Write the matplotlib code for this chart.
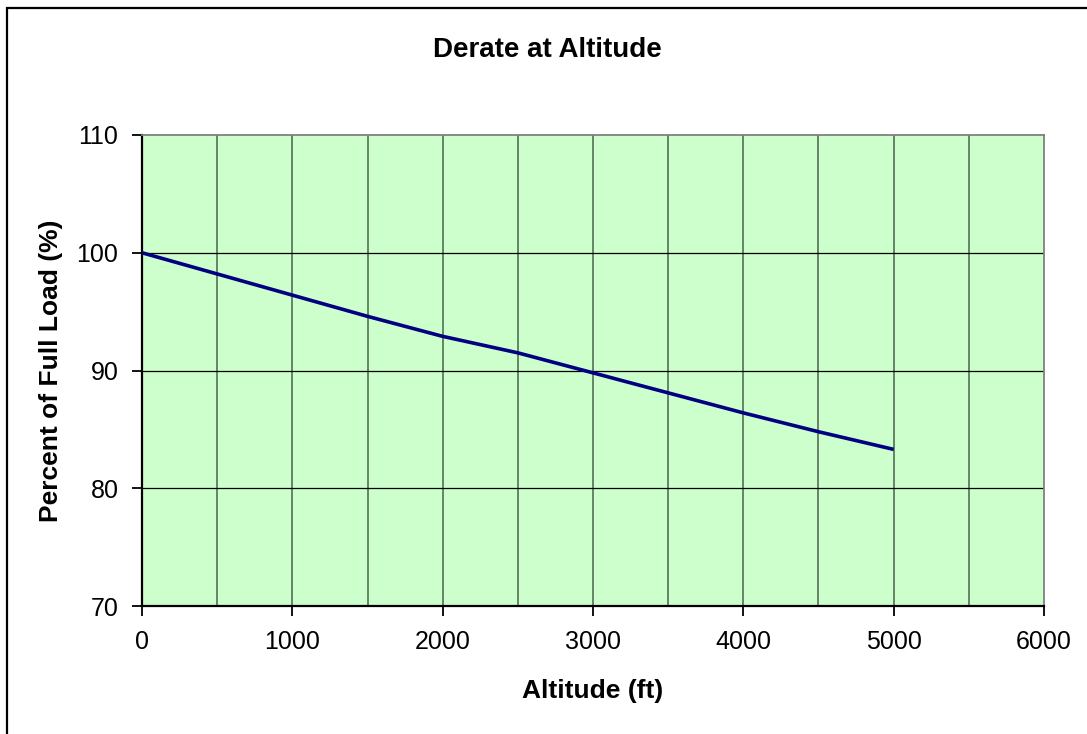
import matplotlib.pyplot as plt
from matplotlib.patches import Rectangle

plt.rcParams['font.family'] = ['Liberation Sans', 'DejaVu Sans']

# Datos
altitud = [0, 500, 1000, 1500, 2000, 2500, 3000, 3500, 4000, 4500, 5000]
carga = [100, 98.2, 96.4, 94.6, 92.9, 91.5, 89.8, 88.1, 86.4, 84.8, 83.3]

x_ticks = [0, 1000, 2000, 3000, 4000, 5000, 6000]
y_ticks = [70, 80, 90, 100, 110]

fig = plt.figure(figsize=(10.87, 7.34), dpi=100)
ax = fig.add_axes([142/1087, 1 - 606/734, (1044 - 142)/1087, (606 - 135)/734])
ax.set_facecolor('#CCFFCC')

# Rejilla: verticales cada 500, horizontales cada 10
for xv in range(500, 6000, 500):
    ax.axvline(xv, color='#5E7A5E', lw=1.3, zorder=1)
for yv in y_ticks[1:-1]:
    ax.axhline(yv, color='black', lw=0.9, zorder=1)

ax.plot(altitud, carga, color='#000080', lw=2.6, zorder=3, solid_capstyle='butt')

ax.set_xlim(0, 6000)
ax.set_ylim(70, 110)
ax.set_xticks(x_ticks)
ax.set_yticks(y_ticks)
ax.tick_params(direction='out', length=7, width=1.3, labelsize=18, pad=10, colors='black')

for s in ['top', 'right']:
    ax.spines[s].set_color('#808080')
    ax.spines[s].set_linewidth(1.3)
for s in ['left', 'bottom']:
    ax.spines[s].set_color('black')
    ax.spines[s].set_linewidth(1.6)

ax.set_xlabel('Altitude (ft)', fontsize=19, fontweight='bold', labelpad=18)
ax.set_ylabel('Percent of Full Load (%)', fontsize=19, fontweight='bold', labelpad=10)
fig.text(547/1087, 1 - 50/734, 'Derate at Altitude', fontsize=20, fontweight='bold',
         ha='center', va='center')

# Marco exterior del gráfico
fig.patches.append(Rectangle((7/1087, -0.05), 1.2, 1.05 - 8/734,
                             transform=fig.transFigure, fill=False,
                             edgecolor='black', lw=1.6))

fig.savefig('out.png', dpi=100)
